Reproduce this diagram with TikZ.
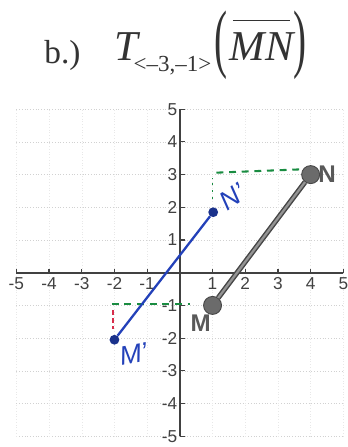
\documentclass[tikz,border=0pt]{standalone}
\usepackage{fontspec}
\setmainfont{Liberation Serif}
\setsansfont{Liberation Sans}
\begin{document}
\begin{tikzpicture}[>=stealth, font=\sffamily]
		\definecolor{penblue}{RGB}{35, 65, 185}
		\definecolor{pengreen}{RGB}{25, 140, 65}
		\definecolor{penred}{RGB}{215, 45, 75}
		\definecolor{inkgray}{RGB}{65, 65, 65}
		\tikzset{
			gridline/.style={dotted, black!18},
			axisline/.style={line width=1.4pt, inkgray},
			ticklabel/.style={font=\sffamily\fontsize{15}{15}\selectfont, text=inkgray, inner sep=1pt},
			bigdot/.style={circle, fill=black!58, draw=black!72, line width=0.8pt, minimum size=0.55cm, inner sep=0pt},
			pendot/.style={circle, fill=penblue!75!black, minimum size=0.3cm, inner sep=0pt},
			penlabel/.style={font=\sffamily\itshape\fontsize{23}{23}\selectfont, text=penblue, inner sep=1pt},
			greendash/.style={pengreen, line width=1.8pt, dash pattern=on 6pt off 5pt},
		}
		\useasboundingbox (-5.50,-5.33) rectangle (5.14,8.34);
		
		% titel
		\node[anchor=base west, inner sep=0pt, text=black!80, font=\rmfamily\fontsize{29}{30}\selectfont] (part) at (-4.15,6.41) {b.)};
		\node[anchor=base west, inner sep=0pt, text=black!80, font=\rmfamily\itshape\fontsize{37}{38}\selectfont] (T) at (-2.0,6.5) {T};
		\node[anchor=base west, inner sep=0pt, text=black!80, font=\rmfamily\fontsize{20}{20}\selectfont] (vec) at (-1.42,6.14) {<–3,–1>};
		\node[inner sep=0pt, text=black!80, font=\rmfamily\fontsize{40}{40}\selectfont] (lpar) at (1.25,6.96) {\scalebox{0.85}[1.65]{(}};
		\node[anchor=base, inner sep=0pt, text=black!80, font=\rmfamily\itshape\fontsize{37}{38}\selectfont] (MN) at (2.5,6.5) {MN};
		\node[inner sep=0pt, text=black!80, font=\rmfamily\fontsize{40}{40}\selectfont] (rpar) at (3.66,6.96) {\scalebox{0.85}[1.65]{)}};
		\coordinate (barL) at (1.62,7.70);
		\coordinate (barR) at (3.36,7.70);
		\draw[line width=0.9pt, black!80] (barL) -- (barR);
		
		% gitter
		\foreach \k in {-5,...,5} {
			\draw[gridline] (-5,\k) -- (5,\k);
			\draw[gridline, black!9] (\k,-5) -- (\k,5);
		}
		
		% assen
		\draw[axisline] (-5,0) -- (5,0);
		\draw[axisline] (0,-5) -- (0,5);
		\foreach \k in {-5,...,-1,1,2,...,5} {
			\draw[axisline, line width=1pt] (\k,0) -- (\k,0.12);
			\draw[axisline, line width=1pt] (0,\k) -- (0.16,\k);
			\node[ticklabel] (xl\k) at (\k,-0.33) {\k};
			\node[ticklabel, anchor=east] (yl\k) at (-0.04,\k) {\k};
		}
		
		% hulplijnen
		\coordinate (g1) at (1.12,3.06);
		\coordinate (g2) at (3.68,3.16);
		\coordinate (g3) at (-2.08,-0.97);
		\coordinate (g4) at (0.32,-0.97);
		\coordinate (g5) at (1.0,2.25);
		\coordinate (g6) at (1.0,2.9);
		\coordinate (r1) at (-2.05,-1.15);
		\coordinate (r2) at (-2.05,-1.72);
		\draw[greendash] (g1) -- (g2);
		\draw[greendash] (g3) -- (g4);
		\draw[pengreen, line width=1.2pt, dash pattern=on 2pt off 4pt] (g5) -- (g6);
		\draw[penred, line width=1.4pt, dash pattern=on 4pt off 3pt] (r1) -- (r2);
		
		% beeld
		\node[pendot] (Mp) at (-2.0,-2.05) {};
		\node[pendot] (Np) at (1.02,1.85) {};
		\draw[penblue, line width=2pt] (Mp) -- (Np);
		\node[penlabel, rotate=10] (Mpl) at (-1.42,-2.48) {M'};
		\node[penlabel, rotate=35] (Npl) at (1.62,2.32) {N'};
		
		% origineel
		\node[bigdot] (M) at (1,-1) {};
		\node[bigdot] (N) at (4,3) {};
		\draw[black!72, line width=4.5pt] (M) -- (N);
		\draw[black!42, line width=2pt] (M) -- (N);
		\node[font=\sffamily\bfseries\fontsize{21}{21}\selectfont, text=black!65] (Ml) at (0.64,-1.55) {M};
		\node[font=\sffamily\bfseries\fontsize{21}{21}\selectfont, text=black!65] (Nl) at (4.5,3.02) {N};
	\end{tikzpicture}
\end{document}
